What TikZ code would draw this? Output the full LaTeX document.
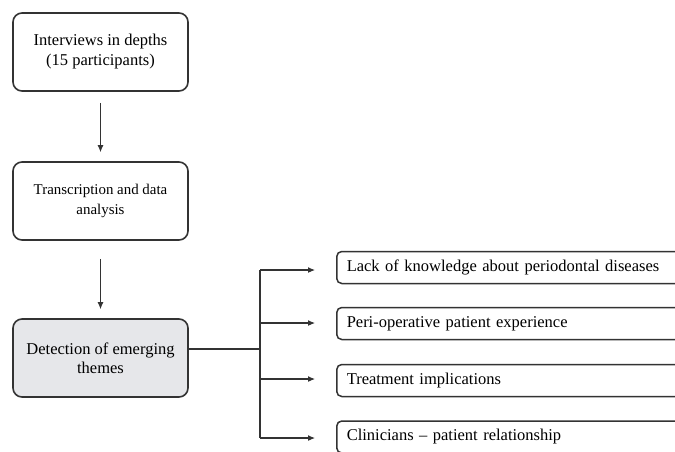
\documentclass[tikz,border=0pt]{standalone}
\usepackage{fontspec}
\setmainfont{Liberation Serif}
\usetikzlibrary{arrows.meta}
\definecolor{linecol}{HTML}{333333}
\definecolor{graybox}{HTML}{E6E7EA}
\tikzset{
  leftbox/.style={draw=linecol, line width=1.6pt, rounded corners=9pt, minimum width=175pt, minimum height=78pt, align=center, font=\fontsize{16.5}{20}\selectfont, inner sep=0pt},
  rightbox/.style={draw=linecol, line width=1.5pt, rounded corners=5pt, minimum width=350pt, minimum height=32pt, anchor=west, text width=330pt, align=left, font=\fontsize{16.5}{18}\selectfont, inner xsep=10pt, inner ysep=0pt},
  conn/.style={draw=linecol, line width=1.1pt},
  arr/.style={conn, -{Latex[length=7pt,width=6pt]}}
}
\begin{document}
\begin{tikzpicture}[x=1pt,y=-1pt]
\useasboundingbox (0,0) rectangle (675,451);
\clip (0,0) rectangle (675,451);
\node[leftbox] (b1) at (100.5,52) {Interviews in depths\\(15 participants)};
\node[leftbox, font=\fontsize{14.9}{20}\selectfont] (b2) at (100.5,201) {Transcription and data\\analysis};
\node[leftbox, fill=graybox, font=\fontsize{16.5}{19}\selectfont] (b3) at (100.5,358) {Detection of emerging\\themes};
\node[rightbox] (r1) at (336,267.5) {Lack of knowledge about periodontal diseases};
\node[rightbox] (r2) at (336,323.5) {Peri-operative patient experience};
\node[rightbox] (r3) at (336,380.5) {Treatment implications};
\node[rightbox] (r4) at (336,437) {Clinicians -- patient relationship};
\draw[arr, shorten <=11pt, shorten >=9pt] (b1) -- (b2);
\draw[arr, shorten <=18pt, shorten >=9pt] (b2) -- (b3);
\coordinate (jx) at (260,349);
\coordinate (jtop) at (260,270);
\coordinate (jbot) at (260,438);
\draw[conn] ([yshift=9pt]b3.east) -- (jx);
\draw[conn] (jtop) -- (jbot);
\draw[arr, shorten >=21pt] (jtop) -- (r1.west |- jtop);
\draw[arr, shorten >=21pt] (260,323) -- (r2.west |- 0,323);
\draw[arr, shorten >=21pt] (260,379) -- (r3.west |- 0,379);
\draw[arr, shorten >=21pt] (jbot) -- (r4.west |- jbot);
\end{tikzpicture}
\end{document}
